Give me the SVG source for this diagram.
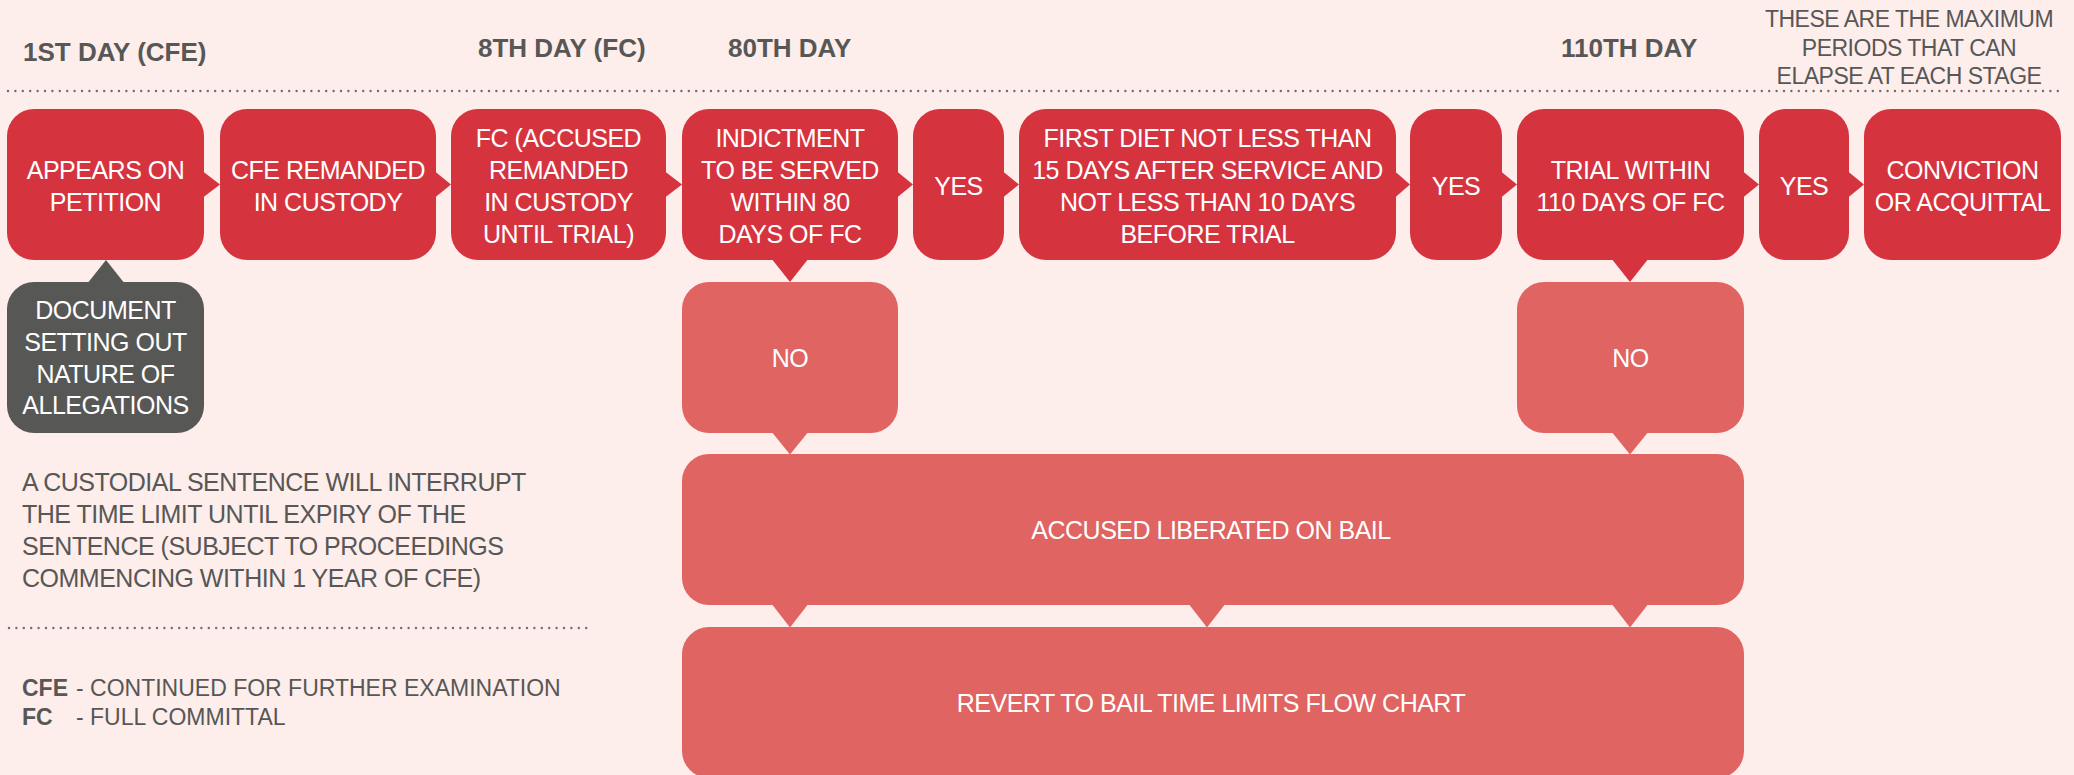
<svg xmlns="http://www.w3.org/2000/svg" width="2074" height="775" viewBox="0 0 2074 775">
  <style>
    text { font-family: "Liberation Sans", Arial, sans-serif; }
    .step { fill: #D5343F; }
    .soft { fill: #E06461; }
    .dark { fill: #575756; }
    .lbl { font-size: 25px; letter-spacing: -0.5px; fill: #FFFFFF; text-anchor: middle; }
    .head { font-size: 26px; font-weight: bold; fill: #575756; }
    .note { font-size: 25px; letter-spacing: -0.5px; fill: #575756; }
    .legend { font-size: 23px; fill: #575756; }
    .dots { stroke: #6E6E6E; stroke-width: 2.4; stroke-linecap: round; stroke-dasharray: 0 7.4; fill: none; }
  </style>

  <rect width="2074" height="775" fill="#FDEDEB"/>

  <!-- timeline headings -->
  <g id="headings">
    <text class="head" x="23" y="61">1ST DAY (CFE)</text>
    <text class="head" x="478" y="57">8TH DAY (FC)</text>
    <text class="head" x="728" y="57">80TH DAY</text>
    <text class="head" x="1561" y="57">110TH DAY</text>
    <text class="note" x="1909" y="27" text-anchor="middle" style="font-size:23px">THESE ARE THE MAXIMUM</text>
    <text class="note" x="1909" y="55.5" text-anchor="middle" style="font-size:23px">PERIODS THAT CAN</text>
    <text class="note" x="1909" y="84" text-anchor="middle" style="font-size:23px">ELAPSE AT EACH STAGE</text>
    <line class="dots" x1="8" y1="91" x2="2060" y2="91"/>
  </g>

  <!-- pointers joining the stages -->
  <g id="connectors">
    <polygon class="step" points="203,171.5 220,184.5 203,197.5"/>
    <polygon class="step" points="435,171.5 451,184.5 435,197.5"/>
    <polygon class="step" points="665,171.5 682,184.5 665,197.5"/>
    <polygon class="step" points="897,171.5 913,184.5 897,197.5"/>
    <polygon class="step" points="1003,171.5 1019,184.5 1003,197.5"/>
    <polygon class="step" points="1395,171.5 1410,184.5 1395,197.5"/>
    <polygon class="step" points="1501,171.5 1517,184.5 1501,197.5"/>
    <polygon class="step" points="1743,171.5 1759,184.5 1743,197.5"/>
    <polygon class="step" points="1848,171.5 1864,184.5 1848,197.5"/>
    <polygon class="dark" points="87,284 106,260 125,284"/>
    <polygon class="step" points="771,258 790,282 809,258"/>
    <polygon class="step" points="1611,258 1630,282 1649,258"/>
    <polygon class="soft" points="771,431 790,454.5 809,431"/>
    <polygon class="soft" points="1611,431 1630,454.5 1649,431"/>
    <polygon class="soft" points="771,603 790,627.5 809,603"/>
    <polygon class="soft" points="1188,603 1207,627.5 1226,603"/>
    <polygon class="soft" points="1611,603 1630,627.5 1649,603"/>
  </g>

  <g id="appears">
    <rect class="step" x="7" y="109" width="197" height="151" rx="27"/>
    <text class="lbl" x="105.5" y="179">APPEARS ON</text>
    <text class="lbl" x="105.5" y="211">PETITION</text>
  </g>
  <g id="cfe-remanded">
    <rect class="step" x="220" y="109" width="216" height="151" rx="27"/>
    <text class="lbl" x="328" y="179">CFE REMANDED</text>
    <text class="lbl" x="328" y="211">IN CUSTODY</text>
  </g>
  <g id="fc">
    <rect class="step" x="451" y="109" width="215" height="151" rx="27"/>
    <text class="lbl" x="558.5" y="147">FC (ACCUSED</text>
    <text class="lbl" x="558.5" y="179">REMANDED</text>
    <text class="lbl" x="558.5" y="211">IN CUSTODY</text>
    <text class="lbl" x="558.5" y="243">UNTIL TRIAL)</text>
  </g>
  <g id="indictment">
    <rect class="step" x="682" y="109" width="216" height="151" rx="27"/>
    <text class="lbl" x="790" y="147">INDICTMENT</text>
    <text class="lbl" x="790" y="179">TO BE SERVED</text>
    <text class="lbl" x="790" y="211">WITHIN 80</text>
    <text class="lbl" x="790" y="243">DAYS OF FC</text>
  </g>
  <g id="yes-1">
    <rect class="step" x="913" y="109" width="91" height="151" rx="27"/>
    <text class="lbl" x="958.5" y="195">YES</text>
  </g>
  <g id="first-diet">
    <rect class="step" x="1019" y="109" width="377" height="151" rx="27"/>
    <text class="lbl" x="1207.5" y="147">FIRST DIET NOT LESS THAN</text>
    <text class="lbl" x="1207.5" y="179">15 DAYS AFTER SERVICE AND</text>
    <text class="lbl" x="1207.5" y="211">NOT LESS THAN 10 DAYS</text>
    <text class="lbl" x="1207.5" y="243">BEFORE TRIAL</text>
  </g>
  <g id="yes-2">
    <rect class="step" x="1410" y="109" width="92" height="151" rx="27"/>
    <text class="lbl" x="1456" y="195">YES</text>
  </g>
  <g id="trial">
    <rect class="step" x="1517" y="109" width="227" height="151" rx="27"/>
    <text class="lbl" x="1630.5" y="179">TRIAL WITHIN</text>
    <text class="lbl" x="1630.5" y="211">110 DAYS OF FC</text>
  </g>
  <g id="yes-3">
    <rect class="step" x="1759" y="109" width="90" height="151" rx="27"/>
    <text class="lbl" x="1804" y="195">YES</text>
  </g>
  <g id="verdict">
    <rect class="step" x="1864" y="109" width="197" height="151" rx="27"/>
    <text class="lbl" x="1962.5" y="179">CONVICTION</text>
    <text class="lbl" x="1962.5" y="211">OR ACQUITTAL</text>
  </g>

  <g id="document">
    <rect class="dark" x="7" y="282" width="197" height="151" rx="27"/>
    <text class="lbl" x="105.5" y="319">DOCUMENT</text>
    <text class="lbl" x="105.5" y="351">SETTING OUT</text>
    <text class="lbl" x="105.5" y="383">NATURE OF</text>
    <text class="lbl" x="105.5" y="414">ALLEGATIONS</text>
  </g>

  <g id="no-1">
    <rect class="soft" x="682" y="282" width="216" height="151" rx="27"/>
    <text class="lbl" x="790" y="367">NO</text>
  </g>
  <g id="no-2">
    <rect class="soft" x="1517" y="282" width="227" height="151" rx="27"/>
    <text class="lbl" x="1630.5" y="367">NO</text>
  </g>
  <g id="bail">
    <rect class="soft" x="682" y="454" width="1062" height="151" rx="27"/>
    <text class="lbl" x="1211" y="539">ACCUSED LIBERATED ON BAIL</text>
  </g>
  <g id="revert">
    <rect class="soft" x="682" y="627" width="1062" height="151" rx="27"/>
    <text class="lbl" x="1211" y="712">REVERT TO BAIL TIME LIMITS FLOW CHART</text>
  </g>

  <!-- side notes and legend -->
  <g id="notes">
    <text class="note" x="22" y="491">A CUSTODIAL SENTENCE WILL INTERRUPT</text>
    <text class="note" x="22" y="523">THE TIME LIMIT UNTIL EXPIRY OF THE</text>
    <text class="note" x="22" y="555">SENTENCE (SUBJECT TO PROCEEDINGS</text>
    <text class="note" x="22" y="587">COMMENCING WITHIN 1 YEAR OF CFE)</text>
    <line class="dots" x1="9" y1="628" x2="588" y2="628"/>
    <text class="legend" x="22" y="696"><tspan font-weight="bold">CFE</tspan><tspan x="76">- CONTINUED FOR FURTHER EXAMINATION</tspan></text>
    <text class="legend" x="22" y="725"><tspan font-weight="bold">FC</tspan><tspan x="76">- FULL COMMITTAL</tspan></text>
  </g>
</svg>
